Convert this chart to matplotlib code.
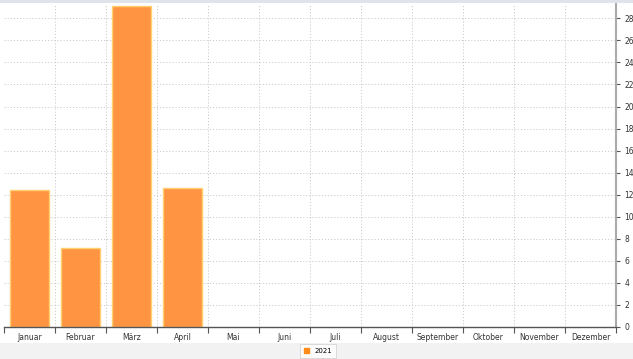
import numpy as np
import matplotlib.pyplot as plt
from matplotlib.patches import Rectangle

# Data
months = ['Januar', 'Februar', 'März', 'April', 'Mai', 'Juni', 'Juli',
          'August', 'September', 'Oktober', 'November', 'Dezember']
values_2021 = [12.4, 7.2, 29.1, 12.6, 0, 0, 0, 0, 0, 0, 0, 0]
yticks = list(range(0, 30, 2))

W, H = 633, 359
fig = plt.figure(figsize=(W / 100, H / 100), dpi=100)
fig.patch.set_facecolor('white')

# light band at bottom and thin strip on top (behind everything)
band = fig.add_axes([0, 0, 1, 16 / H], zorder=-5)
band.set_facecolor('#f2f2f2')
band.set_xticks([]); band.set_yticks([])
for s in band.spines.values():
    s.set_visible(False)
top = fig.add_axes([0, 1 - 3 / H, 1, 3 / H], zorder=-5)
top.set_facecolor('#dfe4ea')
top.set_xticks([]); top.set_yticks([])
for s in top.spines.values():
    s.set_visible(False)

ax = fig.add_axes([4 / W, 32 / H, 612 / W, 323 / H])
ax.set_facecolor('white')

x = np.arange(len(months))
lw = [1 if v > 0 else 0 for v in values_2021]
ax.bar(x, values_2021, width=0.75, color='#ff9442', edgecolor='#ffcf70',
       linewidth=lw, zorder=3)

ax.set_xlim(-0.5, len(months) - 0.5)
ax.set_ylim(0, 29.3)

# grid lines at category boundaries and every 2 units
for b in np.arange(0.5, len(months) - 0.5, 1):
    ax.axvline(b, color='#cccccc', linestyle=(0, (1.2, 2)), linewidth=0.7, zorder=1)
for t in yticks[1:]:
    ax.axhline(t, color='#cccccc', linestyle=(0, (1.2, 2)), linewidth=0.7, zorder=1)

ax.set_xticks(x)
ax.set_xticklabels(months, fontsize=5.5, color='#333333')
ax.set_xticks(np.arange(-0.5, len(months), 1), minor=True)
ax.tick_params(axis='x', which='major', length=0, pad=4)
ax.tick_params(axis='x', which='minor', length=4, color='#555555', width=0.8)

ax.yaxis.tick_right()
ax.set_yticks(yticks)
ax.tick_params(axis='y', labelsize=5.5, labelcolor='#333333', length=3,
               color='#555555', width=0.8, pad=3)

for s in ['top', 'left']:
    ax.spines[s].set_visible(False)
ax.spines['bottom'].set_color('#555555')
ax.spines['bottom'].set_linewidth(1)
ax.spines['bottom'].set_zorder(4)
ax.spines['right'].set_color('#aaaaaa')
ax.spines['right'].set_linewidth(1.5)

leg = fig.legend(handles=[Rectangle((0, 0), 1, 1, color='#ff8c1a')], labels=['2021'],
                 loc='center', bbox_to_anchor=(318 / W, 8 / H), fontsize=5,
                 frameon=True, handlelength=0.8, handleheight=0.8,
                 borderpad=0.5, handletextpad=0.8, fancybox=False)
leg.get_frame().set_edgecolor('#cccccc')
leg.get_frame().set_linewidth(0.6)

fig.savefig('out.png', dpi=100)
